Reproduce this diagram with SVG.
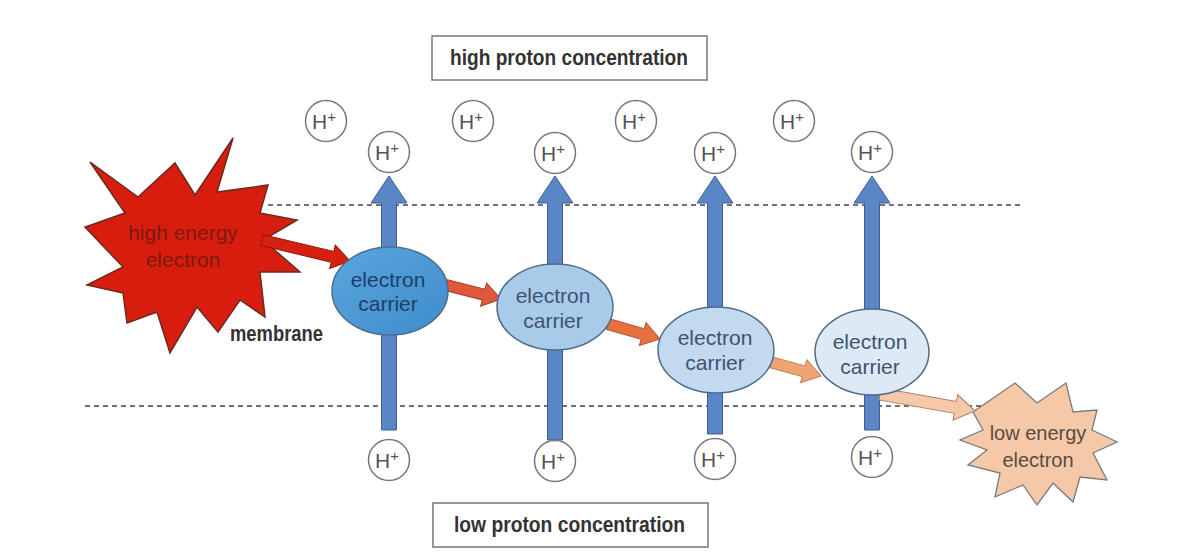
<svg xmlns="http://www.w3.org/2000/svg" width="1196" height="556" viewBox="0 0 1196 556">
<style>
.lbl{font-family:"Liberation Sans",Arial,sans-serif;font-weight:bold;font-size:22px;fill:#333;}
.box{fill:#fff;stroke:#777;stroke-width:1.5;}
.dash{stroke:#444;stroke-width:1.3;stroke-dasharray:5 4;fill:none;}
.hc{fill:#fff;stroke:#777;stroke-width:1.5;}
.ht{font-family:"Liberation Sans",Arial,sans-serif;font-size:21px;fill:#555;}
.pa{fill:#5b86c5;stroke:#3d5d95;stroke-width:1;}
.car{stroke:#4f6d8c;stroke-width:1.5;}
.ct{font-family:"Liberation Sans",Arial,sans-serif;font-size:21px;fill:#3d5470;text-anchor:middle;}
.st{font-family:"Liberation Sans",Arial,sans-serif;font-size:21px;text-anchor:middle;}
</style>
<defs>
<linearGradient id="g1" x1="0" y1="0" x2="1" y2="1">
<stop offset="0" stop-color="#5aa6de"/><stop offset="1" stop-color="#3f8ccc"/>
</linearGradient>
</defs>
<rect width="1196" height="556" fill="#fff"/>

<g id="membrane-lines">
<line class="dash" x1="268" y1="205" x2="1020" y2="205"/>
<line class="dash" x1="85" y1="406" x2="1012" y2="406"/>
</g>

<g id="high-conc"><rect class="box" x="432" y="36" width="275" height="44"/>
<text class="lbl" x="450" y="65" textLength="238" lengthAdjust="spacingAndGlyphs">high proton concentration</text></g>
<g id="low-conc"><rect class="box" x="433" y="503" width="275" height="44"/>
<text class="lbl" x="454" y="532" textLength="231" lengthAdjust="spacingAndGlyphs">low proton concentration</text></g>
<g id="membrane-label"><text class="lbl" x="230" y="341" textLength="93" lengthAdjust="spacingAndGlyphs">membrane</text></g>

<g id="high-energy-electron">
<polygon points="233,138 217,192 268,185 260,213 297,220 263,240 300,272 260,272 265,317 240,300 218,332 197,307 170,353 157,312 127,323 123,293 87,285 123,267 85,227 125,213 90,162 138,197 175,163 195,195" fill="#d71e0e" stroke="#6a2a20" stroke-width="1.5" stroke-linejoin="miter"/>
<text class="st" x="183" y="240" fill="#7e1810">high energy</text>
<text class="st" x="183" y="267" fill="#7e1810">electron</text>
</g>

<g id="low-energy-electron">
<polygon points="973,412 1015,383 1037,403 1066,383 1073,412 1097,410 1092,430 1117,442 1093,453 1107,480 1080,477 1073,502 1053,483 1037,505 1023,485 995,497 1000,473 968,465 987,450 960,440 983,430" fill="#f5c9a8" stroke="#7a7a7a" stroke-width="1.3"/>
<text class="st" x="1038" y="440" fill="#5a4a42" style="font-size:20px">low energy</text>
<text class="st" x="1038" y="467" fill="#5a4a42" style="font-size:20px">electron</text>
</g>

<g id="connectors">
<polygon class="pa" points="389,176 407,203 396.5,203 396.5,430 381.5,430 381.5,203 371,203"/>
<polygon class="pa" points="555,176 573,203 562.5,203 562.5,440 547.5,440 547.5,203 537,203"/>
<polygon class="pa" points="715,176 733,203 722.5,203 722.5,434 707.5,434 707.5,203 697,203"/>
<polygon class="pa" points="872,176 890,203 879.5,203 879.5,430 864.5,430 864.5,203 854,203"/>
<polygon transform="translate(262,240) rotate(13.4)" points="0,-5.5 72.5,-5.5 72.5,-12 90.5,0 72.5,12 72.5,5.5 0,5.5" fill="#d8200f" stroke="#8a1a10" stroke-width="1"/>
<polygon transform="translate(446,285) rotate(14.3)" points="0,-5.5 38.8,-5.5 38.8,-12 56.8,0 38.8,12 38.8,5.5 0,5.5" fill="#e0583a" stroke="#a0402a" stroke-width="1"/>
<polygon transform="translate(608,324) rotate(16.1)" points="0,-5.5 36.1,-5.5 36.1,-12 54.1,0 36.1,12 36.1,5.5 0,5.5" fill="#e8703f" stroke="#b0583a" stroke-width="1"/>
<polygon transform="translate(770,362) rotate(15.4)" points="0,-5.5 34.9,-5.5 34.9,-12 52.9,0 34.9,12 34.9,5.5 0,5.5" fill="#f0a474" stroke="#c08060" stroke-width="1"/>
<polygon transform="translate(880,394) rotate(10.1)" points="0,-6 76.5,-6 76.5,-13 96.5,0 76.5,13 76.5,6 0,6" fill="#f6c8a8" stroke="#a08070" stroke-width="1"/>
</g>

<g id="carrier1"><ellipse class="car" cx="390" cy="291" rx="58" ry="44" fill="url(#g1)"/>
<text class="ct" x="388" y="287" style="fill:#1d3f66">electron</text>
<text class="ct" x="388" y="311" style="fill:#1d3f66">carrier</text></g>
<g id="carrier2"><ellipse class="car" cx="555" cy="307" rx="58" ry="43" fill="#a9cbea"/>
<text class="ct" x="553" y="303">electron</text>
<text class="ct" x="553" y="328">carrier</text></g>
<g id="carrier3"><ellipse class="car" cx="716" cy="350" rx="58" ry="43" fill="#c2d9ef"/>
<text class="ct" x="715" y="345">electron</text>
<text class="ct" x="715" y="370">carrier</text></g>
<g id="carrier4"><ellipse class="car" cx="872" cy="352" rx="57" ry="43" fill="#dde9f5"/>
<text class="ct" x="870" y="349">electron</text>
<text class="ct" x="870" y="374">carrier</text></g>

<g id="h-top1"><circle class="hc" cx="326" cy="121" r="20.5"/><text class="ht" x="312" y="129">H<tspan dy="-7" font-size="15">+</tspan></text></g>
<g id="h-top2"><circle class="hc" cx="473" cy="121" r="20.5"/><text class="ht" x="459" y="129">H<tspan dy="-7" font-size="15">+</tspan></text></g>
<g id="h-top3"><circle class="hc" cx="636" cy="121" r="20.5"/><text class="ht" x="622" y="129">H<tspan dy="-7" font-size="15">+</tspan></text></g>
<g id="h-top4"><circle class="hc" cx="794" cy="121" r="20.5"/><text class="ht" x="780" y="129">H<tspan dy="-7" font-size="15">+</tspan></text></g>
<g id="h-a1"><circle class="hc" cx="389" cy="152" r="20.5"/><text class="ht" x="375" y="160">H<tspan dy="-7" font-size="15">+</tspan></text></g>
<g id="h-a2"><circle class="hc" cx="555" cy="153" r="20.5"/><text class="ht" x="541" y="161">H<tspan dy="-7" font-size="15">+</tspan></text></g>
<g id="h-a3"><circle class="hc" cx="715" cy="153" r="20.5"/><text class="ht" x="701" y="161">H<tspan dy="-7" font-size="15">+</tspan></text></g>
<g id="h-a4"><circle class="hc" cx="872" cy="152" r="20.5"/><text class="ht" x="858" y="160">H<tspan dy="-7" font-size="15">+</tspan></text></g>
<g id="h-b1"><circle class="hc" cx="389" cy="460" r="20.5"/><text class="ht" x="375" y="468">H<tspan dy="-7" font-size="15">+</tspan></text></g>
<g id="h-b2"><circle class="hc" cx="555" cy="461" r="20.5"/><text class="ht" x="541" y="469">H<tspan dy="-7" font-size="15">+</tspan></text></g>
<g id="h-b3"><circle class="hc" cx="715" cy="459" r="20.5"/><text class="ht" x="701" y="467">H<tspan dy="-7" font-size="15">+</tspan></text></g>
<g id="h-b4"><circle class="hc" cx="872" cy="457" r="20.5"/><text class="ht" x="858" y="465">H<tspan dy="-7" font-size="15">+</tspan></text></g>
</svg>
